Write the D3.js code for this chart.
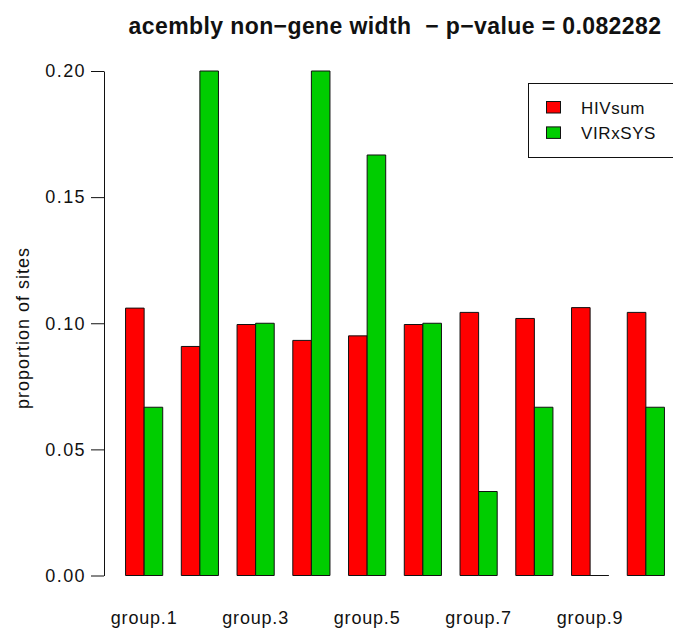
<!DOCTYPE html>
<html>
<head>
<meta charset="utf-8">
<script src="https://cdn.jsdelivr.net/npm/d3@7"></script>
<style>
  html, body { margin: 0; padding: 0; background: #fff; }
  svg { display: block; font-family: "Liberation Sans", Arial, Helvetica, sans-serif; }
</style>
</head>
<body>
<svg id="chart" width="673" height="633"></svg>
<script>
// Proportion of sites per width group, for the two site sets
const groups = ["group.1", "group.2", "group.3", "group.4", "group.5",
                "group.6", "group.7", "group.8", "group.9", "group.10"];
const hivsum  = [0.1060, 0.0908, 0.0995, 0.0932, 0.0950, 0.0995, 0.1043, 0.1019, 0.1062, 0.1043];
const virxsys = [0.0667, 0.2000, 0.1000, 0.2000, 0.1667, 0.1000, 0.0333, 0.0667, 0.0000, 0.0667];
const seriesNames  = ["HIVsum", "VIRxSYS"];
const seriesColors = ["#ff0000", "#00cd00"];
const yTicks = [0, 0.05, 0.10, 0.15, 0.20];
const titleText = "acembly non\u2212gene width  \u2212 p\u2212value = 0.082282";

const svg = d3.select("#chart");

// Bar units: each group = two bars of width 1 plus one unit of space before it
const x = d3.scaleLinear().domain([-0.16, 31.16]).range([104, 686]);
const y = d3.scaleLinear().domain([0, 0.2]).range([575.5, 71]);

const series = [hivsum, virxsys];
const bars = [];
groups.forEach((g, i) => {
  series.forEach((vals, s) => {
    const left = 3 * i + 1 + s;
    bars.push({ x0: left, x1: left + 1, v: vals[i], s });
  });
});

// Paths so that zero-height bars still show their outline on the baseline
svg.append("g").selectAll("path")
  .data(bars)
  .join("path")
  .attr("d", d => `M${x(d.x0)},${y(0)}H${x(d.x1)}V${y(d.v)}H${x(d.x0)}Z`)
  .attr("fill", d => seriesColors[d.s])
  .attr("stroke", "#111")
  .attr("stroke-width", 1);

// Y axis
const yAxis = d3.axisLeft(y)
  .tickValues(yTicks)
  .tickFormat(d3.format(".2f"))
  .tickSize(13)
  .tickSizeOuter(0)
  .tickPadding(5);

const ya = svg.append("g")
  .attr("transform", `translate(${x(-0.16)},0)`)
  .call(yAxis);
ya.select(".domain").attr("stroke", "#111");
ya.selectAll(".tick line").attr("stroke", "#111");
ya.selectAll(".tick text")
  .attr("font-size", 18)
  .attr("fill", "#111")
  .style("letter-spacing", "1.4px")
  .attr("font-family", "'Liberation Sans', Arial, sans-serif");

// Group names (every other one fits under the bars)
svg.append("g").selectAll("text")
  .data(groups.map((g, i) => ({ g, i })).filter(d => d.i % 2 === 0))
  .join("text")
  .attr("x", d => x(3 * d.i + 2))
  .attr("y", 624)
  .attr("text-anchor", "middle")
  .attr("font-size", 18)
  .style("letter-spacing", "0.8px")
  .attr("fill", "#111")
  .text(d => d.g);

// Y axis title
svg.append("text")
  .attr("transform", "translate(29,328) rotate(-90)")
  .attr("text-anchor", "middle")
  .attr("font-size", 18)
  .style("letter-spacing", "1px")
  .attr("fill", "#111")
  .text("proportion of sites");

// Main title
svg.append("text")
  .attr("x", (x(-0.16) + x(31.16)) / 2)
  .attr("y", 34)
  .attr("text-anchor", "middle")
  .attr("font-size", 23)
  .attr("font-weight", "bold")
  .style("letter-spacing", "0.4px")
  .style("white-space", "pre")
  .attr("fill", "#111")
  .text(titleText);

// Legend
const legend = svg.append("g");
legend.append("rect")
  .attr("x", 528.5).attr("y", 83.5)
  .attr("width", 170).attr("height", 74)
  .attr("fill", "#fff")
  .attr("stroke", "#111");

const rows = legend.selectAll("g.row")
  .data(seriesNames.map((n, i) => ({ n, i })))
  .join("g")
  .attr("class", "row")
  .attr("transform", d => `translate(0,${d.i * 25.4})`);
rows.append("rect")
  .attr("x", 546.5).attr("y", 101.5)
  .attr("width", 14).attr("height", 11.5)
  .attr("fill", d => seriesColors[d.i])
  .attr("stroke", "#111");
rows.append("text")
  .attr("x", 581).attr("y", 113.5)
  .attr("font-size", 17)
  .style("letter-spacing", "0.6px")
  .attr("fill", "#111")
  .text(d => d.n);
</script>
</body>
</html>
